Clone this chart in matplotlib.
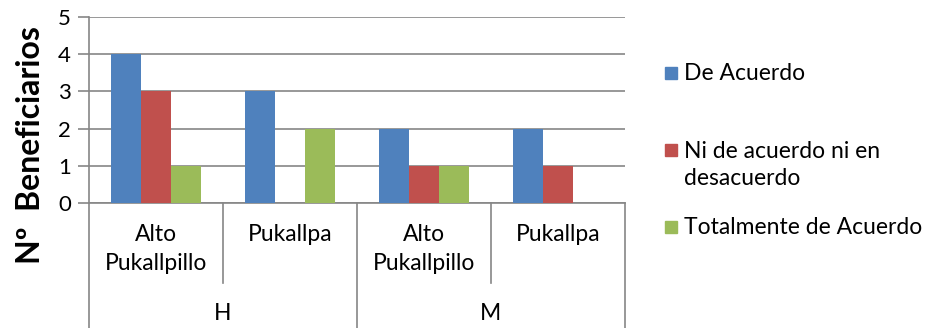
import matplotlib
matplotlib.use("Agg")
import matplotlib.pyplot as plt
import numpy as np

plt.rcParams['font.family'] = ['Lato', 'DejaVu Sans']

# data
sub_labels = ['Alto\nPukallpillo', 'Pukallpa', 'Alto\nPukallpillo', 'Pukallpa']
group_labels = ['H', 'M']
series_names = ['De Acuerdo', 'Ni de acuerdo ni en\ndesacuerdo', 'Totalmente de Acuerdo']
de_acuerdo = [4, 3, 2, 2]
ni_acuerdo = [3, 0, 1, 1]
totalmente = [1, 2, 1, 0]
colors = ['#4F81BD', '#C0504D', '#9BBB59']
yticks = [0, 1, 2, 3, 4, 5]

W, H = 930, 328
fig = plt.figure(figsize=(W / 100, H / 100), dpi=100)
ax = fig.add_axes([89 / W, (H - 203) / H, (625 - 89) / W, (203 - 17) / H])

x = np.arange(len(sub_labels))
bw = 1 / 4.5
for i, (vals, c, name) in enumerate(zip([de_acuerdo, ni_acuerdo, totalmente], colors, series_names)):
    ax.bar(x + (i - 1) * bw, vals, width=bw, color=c, label=name, zorder=3)

ax.set_xlim(-0.5, len(sub_labels) - 0.5)
ax.set_ylim(0, 5)
ax.set_yticks(yticks)
ax.set_yticklabels([str(v) for v in yticks], fontsize=16)
ax.yaxis.grid(True, color='#868686', linewidth=1.2, zorder=0)
ax.tick_params(axis='y', length=8, width=1.2, color='#868686', pad=5)
ax.set_xticks([])
for s in ['top', 'right']:
    ax.spines[s].set_visible(False)
ax.spines['left'].set_color('#868686')
ax.spines['bottom'].set_color('#868686')
ax.spines['left'].set_linewidth(1.2)
ax.spines['bottom'].set_linewidth(1.2)

# multi-level category axis
tr = ax.get_xaxis_transform()
ax_h = (203 - 17)
lvl1 = -(283 - 203) / ax_h
bottom = -(328 - 203) / ax_h
for k in range(len(sub_labels) + 1):
    xe = k - 0.5
    if k % 2 == 0:
        ax.plot([xe, xe], [0, bottom], transform=tr, color='#868686', lw=1.2, clip_on=False)
    else:
        ax.plot([xe, xe], [0, lvl1], transform=tr, color='#868686', lw=1.2, clip_on=False)
for k, lab in enumerate(sub_labels):
    ax.text(k, -(224 - 203) / ax_h, lab, transform=tr, ha='center', va='top',
            fontsize=16.5, linespacing=1.45)
for g, lab in enumerate(group_labels):
    ax.text(2 * g + 0.5, -(314 - 203) / ax_h, lab, transform=tr, ha='center', va='center', fontsize=16.5)

fig.text(30 / W, (H - 145) / H, 'Nº  Beneficiarios', rotation=90, ha='center', va='center',
         fontsize=23, fontweight='bold')

# legend
leg_y = [73, 165, 227]
for name, c, ly in zip(series_names, colors, leg_y):
    if '\n' in name:
        sq_y = 150
    else:
        sq_y = ly
    fig.patches.append(plt.Rectangle((665 / W, (H - sq_y - 6) / H), 12 / W, 12 / H,
                                     transform=fig.transFigure, color=c))
    fig.text(684 / W, (H - ly) / H, name, ha='left', va='center', fontsize=16.5, linespacing=1.3)

fig.savefig('out.png', dpi=100)
